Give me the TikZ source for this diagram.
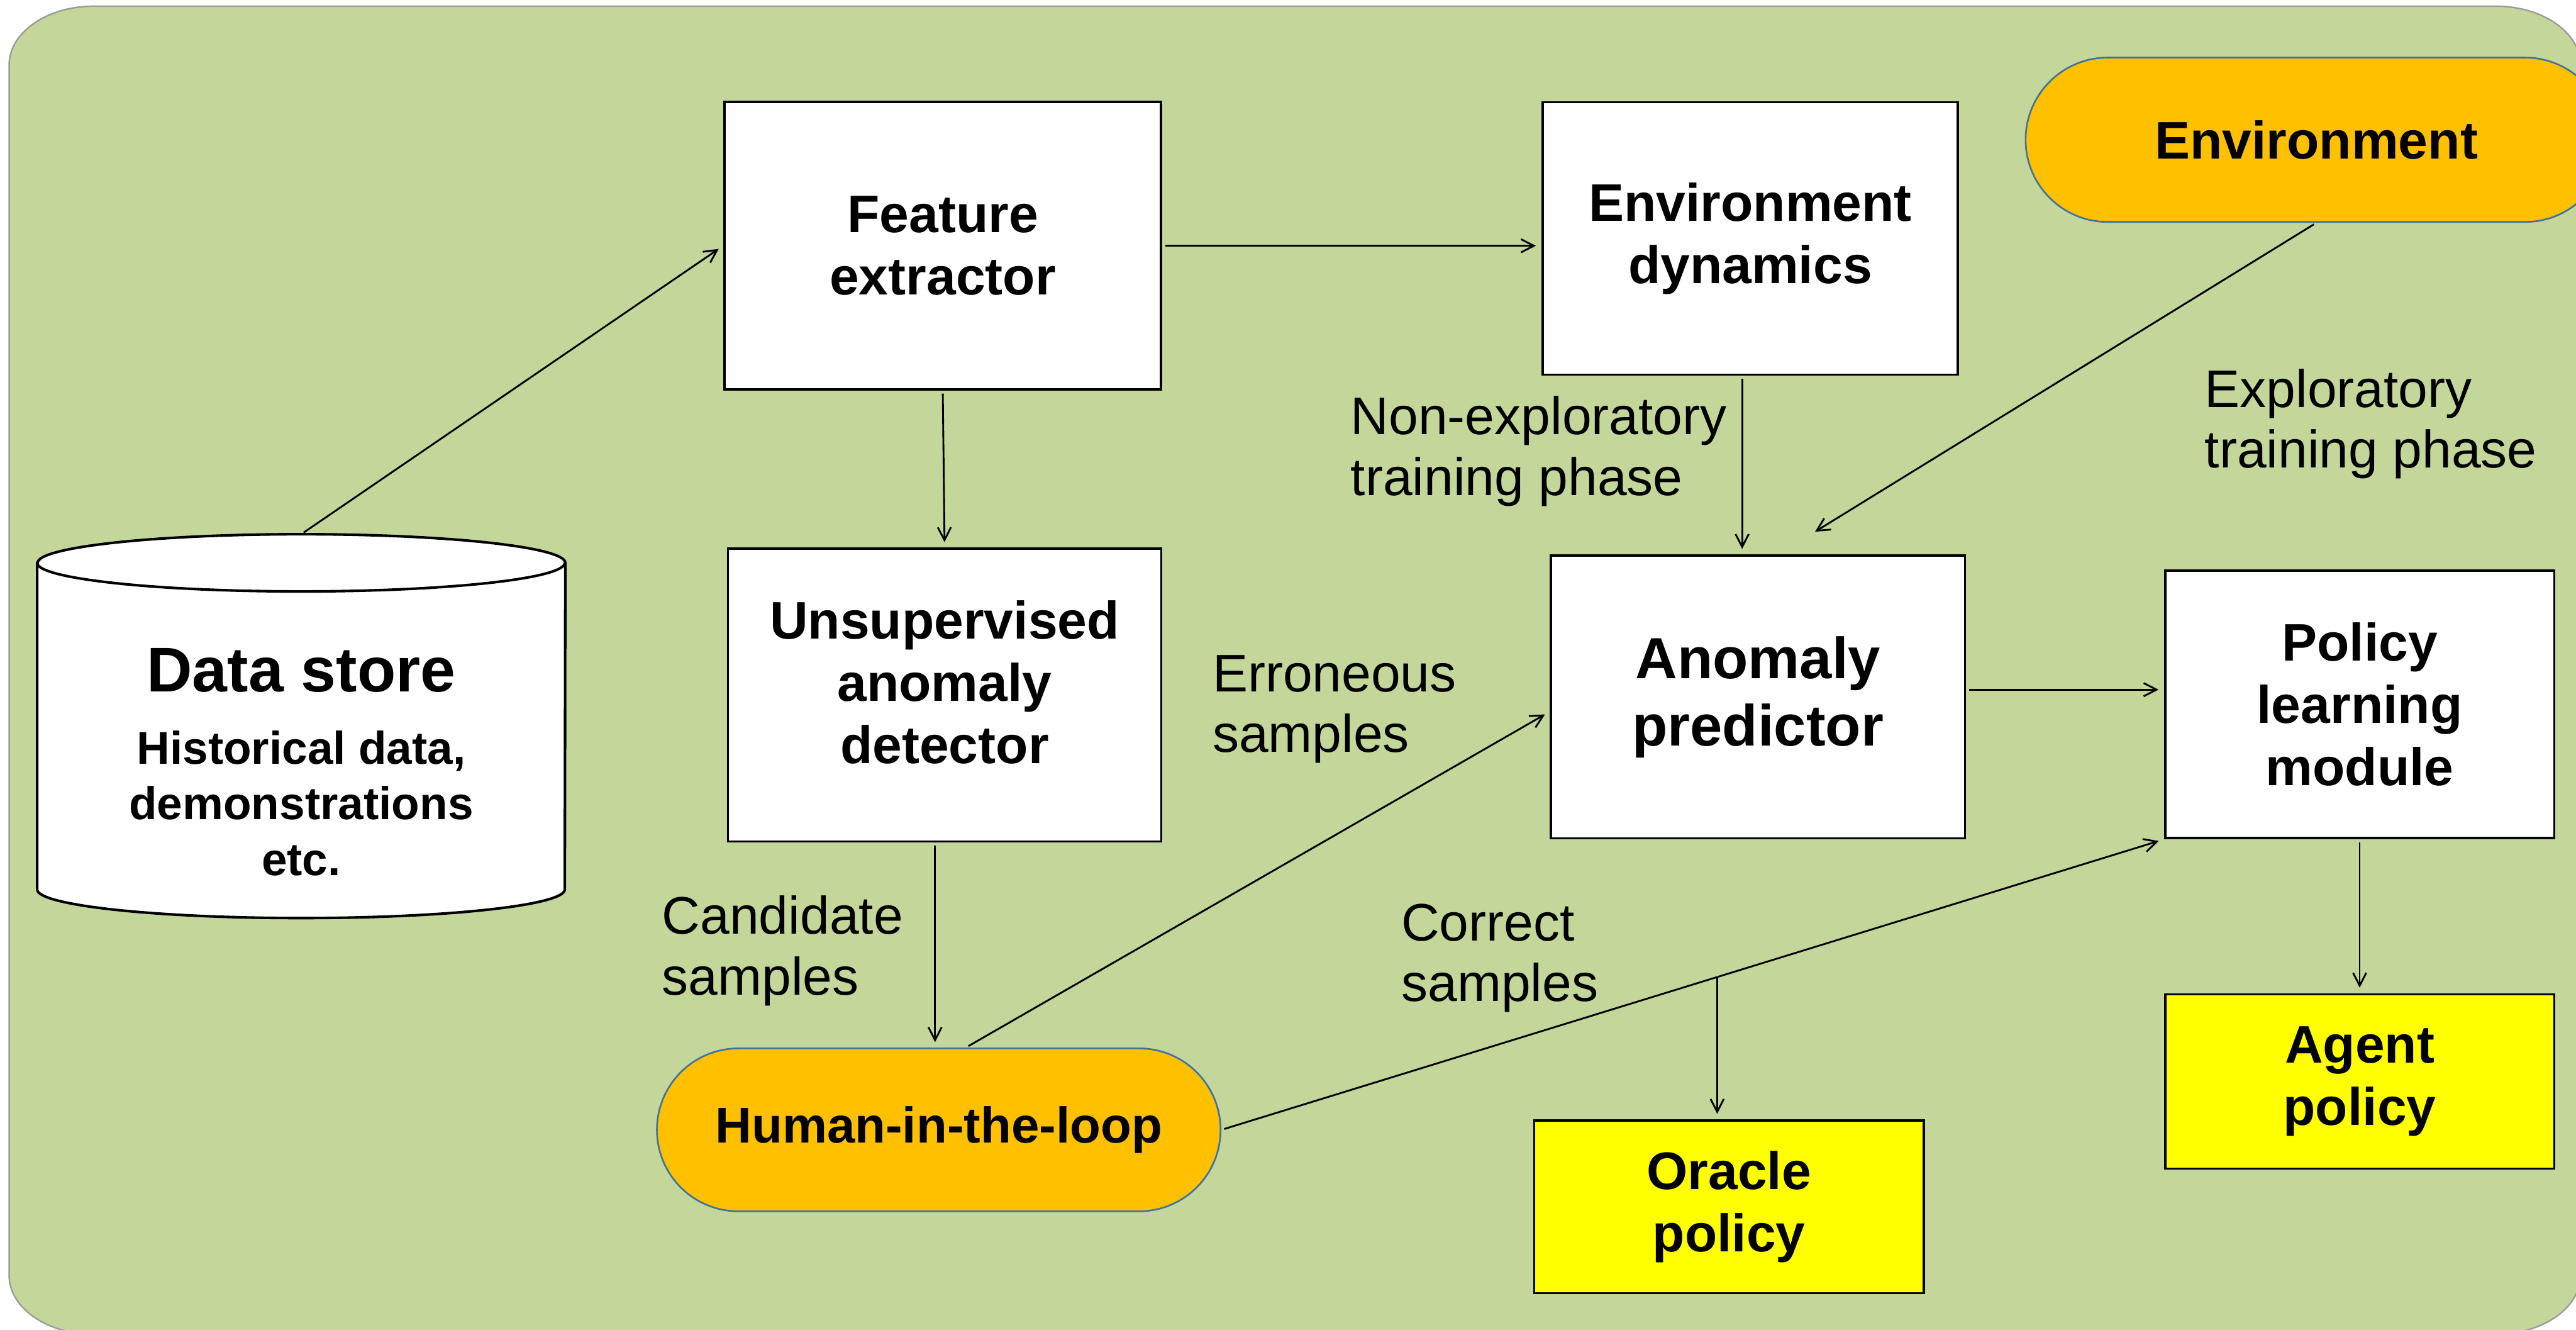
\documentclass[tikz,border=0pt]{standalone}
\usepackage{fontspec}
\setmainfont{Liberation Sans}
\usetikzlibrary{arrows.meta,calc,shapes.misc}

\definecolor{panelgreen}{HTML}{C4D79B}
\definecolor{panelgray}{HTML}{9C9C9C}
\definecolor{envorange}{HTML}{FFC000}
\definecolor{envblue}{HTML}{41719C}
\definecolor{policyyellow}{HTML}{FFFF00}

\newcommand{\bxfont}{\fontsize{41}{48.4}\selectfont\bfseries}
\newcommand{\lblfont}{\fontsize{41}{47}\selectfont}

\tikzset{
  block/.style={draw, line width=1.8pt, fill=white, align=center, font=\bxfont, inner sep=0pt},
  policy/.style={block, fill=policyyellow},
  terminal/.style={rounded rectangle, draw=envblue, line width=1.3pt, fill=envorange, font=\bxfont, inner sep=0pt},
  note/.style={align=left, anchor=west, font=\lblfont, inner sep=0pt},
  flow/.style={-{Straight Barb[length=0.35cm,width=0.36cm]}, line width=1.4pt, shorten >=0.15cm, shorten <=0.08cm},
}

\begin{document}
\begin{tikzpicture}[x=1cm,y=-1cm]
\useasboundingbox (0,0) rectangle (70.25,36.24);
\clip (0,0) rectangle (70.25,36.24);

% Background panel
\draw[fill=panelgreen, draw=panelgray, line width=1.2pt]
  (0.25,1.77) arc[start angle=180,end angle=270,x radius=2.3,y radius=1.6]
  -- (68.07,0.17) arc[start angle=270,end angle=360,x radius=2.3,y radius=1.6]
  -- (70.37,34.77) arc[start angle=0,end angle=90,x radius=2.3,y radius=1.6]
  -- (2.55,36.37) arc[start angle=90,end angle=180,x radius=2.3,y radius=1.6]
  -- cycle;

% Data store
\node[minimum width=14.39cm, minimum height=10.45cm, inner sep=0pt] (ds) at (8.215,19.795) {};
\draw[line width=2pt, fill=white] ($(ds.north west)+(0,0.78)$) -- ($(ds.south west)+(0,-0.78)$)
  arc[start angle=180,end angle=0,x radius=7.195,y radius=0.78]
  -- ($(ds.north east)+(0,0.78)$)
  arc[start angle=0,end angle=-180,x radius=7.195,y radius=0.78] -- cycle;
\draw[line width=2pt] ($(ds.north west)+(0,0.78)$) arc[start angle=180,end angle=0,x radius=7.195,y radius=0.78];
\node[font=\fontsize{49}{58}\selectfont\bfseries, inner sep=0pt] (dstitle) at ($(ds.center)+(0,-1.52)$) {Data store};
\node[font=\fontsize{35.6}{43.2}\selectfont\bfseries, align=center, inner sep=0pt] (dssub) at ($(ds.center)+(0,2.10)$) {Historical data,\\demonstrations\\etc.};

% Blocks
\node[block, minimum width=11.91cm, minimum height=7.84cm] (fe) at (25.71,6.70) {Feature\\extractor};
\node[block, minimum width=11.33cm, minimum height=7.43cm] (ed) at (47.73,6.50) {Environment\\dynamics};
\node[terminal, minimum width=15.86cm, minimum height=4.48cm] (env) at (63.17,3.81) {Environment};
\node[block, minimum width=11.82cm, minimum height=7.98cm] (uad) at (25.76,18.95) {Unsupervised\\anomaly\\detector\\[-0.98cm]};
\node[block, minimum width=11.29cm, minimum height=7.71cm, font=\fontsize{45}{52.3}\selectfont\bfseries] (ap) at (47.94,19.00) {Anomaly\\predictor};
\node[block, minimum width=10.61cm, minimum height=7.30cm] (plm) at (64.35,19.20) {Policy\\learning\\module};
\node[terminal, minimum width=15.37cm, minimum height=4.44cm, font=\fontsize{39}{46}\selectfont\bfseries] (hitl) at (25.60,30.80) {Human-in-the-loop};
\node[policy, minimum width=10.62cm, minimum height=4.71cm] (op) at (47.15,32.90) {Oracle\\policy};
\node[policy, minimum width=10.61cm, minimum height=4.75cm] (agp) at (64.35,29.48) {Agent\\policy};

% Connectors
\draw[flow] (ds.north) -- (fe.west);
\draw[flow] (fe.east) -- ($(ed.west)+(0,0.2)$);
\draw[flow] (fe.south) -- (uad.north);
\draw[flow] ([xshift=-0.1cm]uad.south -| hitl.north) -- ([xshift=-0.1cm]hitl.north);
\draw[flow] ([xshift=-0.22cm]ed.south) -- ([xshift=-0.22cm]ed.south |- ap.north);
\coordinate (apin) at ($(ap.north)+(1.43,-0.54)$);
\draw[flow] (env.south) -- (apin);
\draw[flow] ([xshift=0.74cm]hitl.north) -- ($(ap.west)+(0,0.4)$);
\draw[flow] ([yshift=0.2cm]ap.east) -- ([yshift=0.2cm]ap.east -| plm.west);
\draw[flow] (hitl.east) -- (plm.south west);
\coordinate (br) at ($(hitl.east)!0.526!(plm.south west)$);
\draw[flow, shorten <=0pt] (br) -- (br |- op.north);
\draw[flow] (plm.south) -- (agp.north);

% Labels
\node[note] (nonexp) at (36.83,12.30) {Non-exploratory\\training phase};
\node[note] (exp) at (60.12,11.56) {Exploratory\\training phase};
\node[note] (err) at (33.06,19.33) {Erroneous\\samples};
\node[note] (cand) at (18.05,25.92) {Candidate\\samples};
\node[note] (corr) at (38.21,26.12) {Correct\\samples};
\end{tikzpicture}
\end{document}
